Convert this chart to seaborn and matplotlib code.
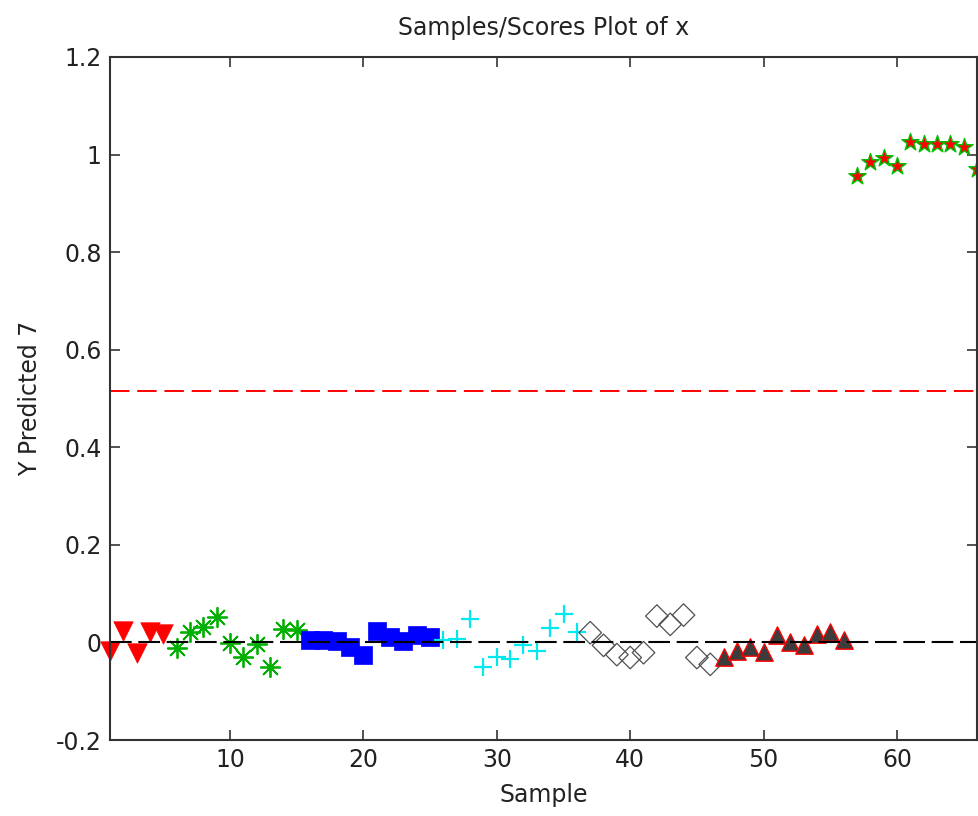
import matplotlib
matplotlib.use("Agg")
import matplotlib.pyplot as plt
import seaborn as sns
import numpy as np

# ---- data ----
s_red_down = [1, 2, 3, 4, 5]
y_red_down = [-0.018, 0.023, -0.021, 0.021, 0.018]

s_green_ast = [6, 7, 8, 9, 10, 11, 12, 13, 14, 15]
y_green_ast = [-0.012, 0.022, 0.032, 0.053, -0.001, -0.029, -0.004, -0.050, 0.028, 0.025]

s_blue_sq = [16, 17, 18, 19, 20, 21, 22, 23, 24, 25]
y_blue_sq = [0.004, 0.006, 0.002, -0.010, -0.025, 0.024, 0.012, 0.003, 0.015, 0.012]

s_cyan_plus = [26, 27, 28, 29, 30, 31, 32, 33, 34, 35, 36]
y_cyan_plus = [0.006, 0.008, 0.049, -0.050, -0.029, -0.033, -0.006, -0.018, 0.030, 0.059, 0.021]

s_diamond = [37, 38, 39, 40, 41, 42, 43, 44, 45, 46]
y_diamond = [0.020, -0.006, -0.025, -0.031, -0.021, 0.054, 0.037, 0.056, -0.031, -0.045]

s_dark_up = [47, 48, 49, 50, 51, 52, 53, 54, 55, 56]
y_dark_up = [-0.029, -0.018, -0.009, -0.020, 0.016, 0.001, -0.005, 0.017, 0.021, 0.004]

s_star = [57, 58, 59, 60, 61, 62, 63, 64, 65, 66]
y_star = [0.956, 0.985, 0.993, 0.976, 1.026, 1.022, 1.022, 1.022, 1.016, 0.971]

threshold = 0.516
xticks = [10, 20, 30, 40, 50, 60]
yticks = [-0.2, 0, 0.2, 0.4, 0.6, 0.8, 1, 1.2]
ytick_labels = ["-0.2", "0", "0.2", "0.4", "0.6", "0.8", "1", "1.2"]

sns.set_style("white")
plt.rcParams["font.family"] = ["DejaVu Sans"]

fig = plt.figure(figsize=(9.79, 8.16), dpi=100)
ax = fig.add_axes([110 / 979, 1 - 740 / 816, 867 / 979, 683 / 816])

spine_col = "#333333"

def scat(x, y, **kw):
    return sns.scatterplot(x=x, y=y, ax=ax, clip_on=False, zorder=3, legend=False, **kw)

scat(s_red_down, y_red_down, marker="v", s=14 ** 2, color="#FF0000", edgecolor="#FF0000", linewidth=0.5)
scat(s_green_ast, y_green_ast, marker=(8, 2, 0), s=14 ** 2, color="#00B000", linewidth=1.3)
scat(s_blue_sq, y_blue_sq, marker="s", s=13 ** 2, color="#0000FF", edgecolor="#0000FF", linewidth=0.5)
scat(s_cyan_plus, y_cyan_plus, marker="+", s=13 ** 2, color="#00E8F0", linewidth=1.6)
n_before = len(ax.collections)
scat(s_diamond, y_diamond, marker="D", s=11.5 ** 2, color="#505050", edgecolor="#505050", linewidth=0.9)
ax.collections[n_before].set_facecolor("none")
scat(s_dark_up, y_dark_up, marker="^", s=12.5 ** 2, color="#3C3C3C", edgecolor="#FF0000", linewidth=1.0)
scat(s_star, y_star, marker="*", s=13 ** 2, color="#FF0000", edgecolor="#00C000", linewidth=1.0)

# reference lines
ax.axhline(0, color="black", lw=1.5, dashes=(10.4, 3.2), zorder=4)
ax.axhline(threshold, color="#FF0000", lw=1.4, dashes=(10.0, 4.0), zorder=4)

ax.set_xlim(1, 66)
ax.set_ylim(-0.2, 1.2)
ax.set_xticks(xticks)
ax.set_xticklabels([str(t) for t in xticks])
ax.set_yticks(yticks)
ax.set_yticklabels(ytick_labels)

for sp in ax.spines.values():
    sp.set_visible(True)
    sp.set_color(spine_col)
    sp.set_linewidth(1.5)
    sp.set_zorder(5)

ax.tick_params(axis="both", which="both", direction="in", length=7, width=1.2,
               colors=spine_col, labelcolor="#222222", labelsize=17,
               top=True, right=True, bottom=True, left=True, pad=6)

ax.set_xlabel("Sample", fontsize=17, color="#222222", labelpad=8)
ax.set_ylabel("Y Predicted 7", fontsize=17, color="#222222", labelpad=10)
ax.set_title("Samples/Scores Plot of x", fontsize=17, color="#222222", pad=16)

fig.savefig("out.png", dpi=100)
